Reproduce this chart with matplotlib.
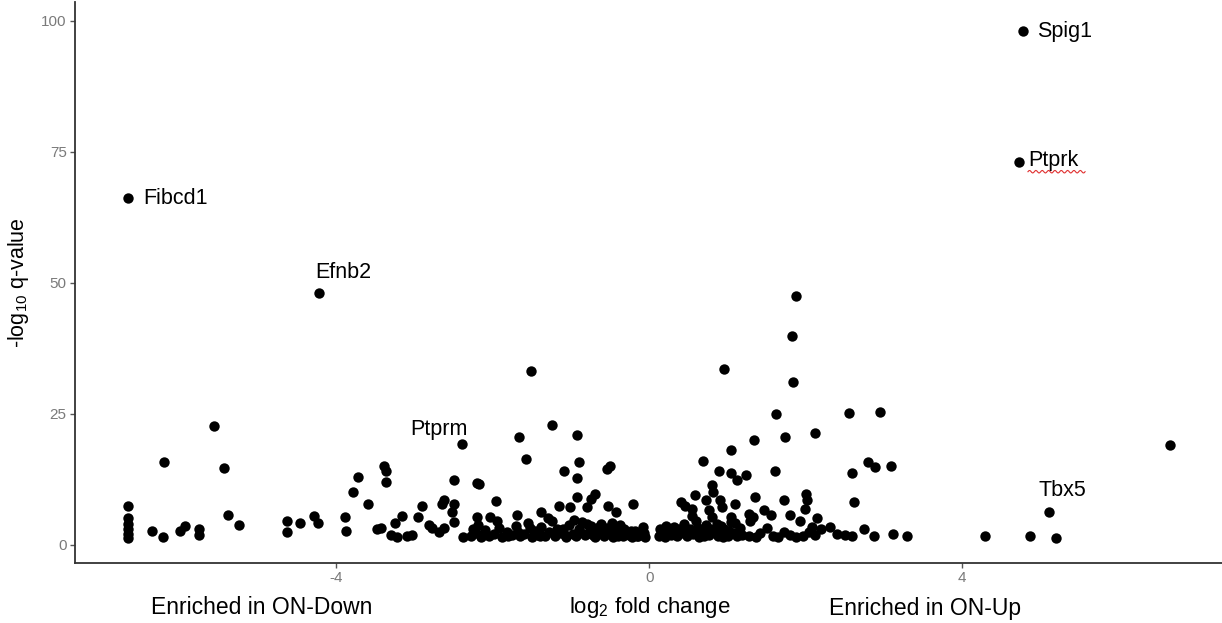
import numpy as np
import matplotlib
matplotlib.use("Agg")
import matplotlib.pyplot as plt
import matplotlib.transforms as mtransforms

plt.rcParams['font.family'] = ['Liberation Sans', 'DejaVu Sans']
plt.rcParams['mathtext.default'] = 'regular'

# ---------------- data ----------------
# labelled genes
label_genes = ["Spig1", "Ptprk", "Fibcd1", "Efnb2", "Ptprm", "Tbx5"]
label_x = [4.78, 4.73, -6.66, -4.22, -2.39, 5.11]
label_y = [98.0, 73.0, 66.1, 48.0, 19.3, 6.2]

# other genes (log2 fold change, -log10 q)
other_x = [
    -6.66, -6.66, -6.66, -6.66, -6.66, -6.66,
    -6.20, -5.56, -5.44, -6.35, -6.21, -6.00, -5.93, -5.76, -5.76, -5.38, -5.24,
    -4.63, -4.63, -4.47, -4.29, -4.23, -3.89, -3.87, -3.79, -3.72, -3.59, -3.48,
    -3.39, -3.36, -3.36, -3.43, -3.30, -3.25, -3.16, -3.23, -3.10, -3.03,
    -2.95, -2.91, -2.82, -2.78, -2.69, -2.63, -2.65, -2.63, -2.50, -2.52, -2.50, -2.50,
    -2.38, -2.20, -2.18, -2.20, -2.19, -2.04, -1.96, -1.66, -1.58, -1.24, -0.92, -0.90,
    -1.09, -0.92, -0.54, -0.50, -0.92, -0.75, -0.69, -0.80, -1.01, -1.16, -1.39, -0.21,
    -0.53, -0.43, -1.69, -1.51,
    # left dense band
    -2.28, -2.22, -2.15, -2.10, -2.05, -1.98, -1.92, -1.88, -1.82, -1.76, -1.70, -1.65,
    -1.60, -1.55, -1.50, -1.46, -1.42, -1.38, -1.33, -1.28, -1.24, -1.20, -1.15, -1.10,
    -1.06, -1.02, -0.98, -0.94, -0.90, -0.86, -0.82, -0.78, -0.74, -0.70, -0.66, -0.62,
    -0.58, -0.54, -0.50, -0.46, -0.42, -0.38, -0.34, -0.30, -0.26, -0.22, -0.18, -0.14,
    -0.10, -0.06,
    -2.25, -2.12, -1.95, -1.80, -1.68, -1.52, -1.40, -1.30, -1.18, -1.08, -0.96, -0.88,
    -0.80, -0.72, -0.64, -0.56, -0.48, -0.40, -0.32, -0.24, -0.16, -0.08,
    # right side
    -0.07, 1.62, 2.55, 2.95, 2.12, 1.74, 1.34, 1.04, 0.69, 0.89, 1.04, 1.12, 1.23, 1.61,
    2.59, 2.80, 2.89, 3.09, 2.62, 0.80, 0.81, 0.58, 0.40, 0.46, 0.55, 0.72, 0.76, 0.91,
    0.93, 1.10, 1.04, 1.35, 1.72, 2.00, 2.01, 1.99, 1.27, 1.33, 1.46, 1.55, 1.80, 1.93,
    2.14, 1.29, 2.31, 2.74, 2.87, 3.11, 3.29, 2.59, 2.50, 2.40, 2.08,
    4.29, 4.87, 5.20, 6.66,
    1.87, 1.82, 0.96, 1.84,
    # right dense band
    0.12, 0.16, 0.20, 0.24, 0.28, 0.32, 0.36, 0.40, 0.44, 0.48, 0.52, 0.56, 0.60, 0.64,
    0.68, 0.72, 0.76, 0.80, 0.84, 0.88, 0.92, 0.96, 1.00, 1.04, 1.08, 1.12, 1.16,
    0.14, 0.22, 0.30, 0.38, 0.46, 0.54, 0.62, 0.70, 0.78, 0.86, 0.94, 1.02, 1.10, 1.18,
    1.27, 1.36, 1.42, 1.50, 1.58, 1.64, 1.72, 1.80, 1.88, 1.96, 2.04, 2.12, 2.20,
]
other_y = [
    7.4, 5.0, 4.0, 3.0, 2.0, 1.3,
    15.8, 22.6, 14.6, 2.7, 1.5, 2.7, 3.5, 2.9, 1.8, 5.7, 3.7,
    4.5, 2.5, 4.1, 5.4, 4.1, 5.2, 2.6, 10.0, 13.0, 7.8, 2.9,
    15.0, 14.0, 12.0, 3.2, 1.8, 4.1, 5.4, 1.5, 1.6, 1.8,
    5.3, 7.3, 3.7, 3.1, 2.4, 3.1, 7.8, 8.5, 7.8, 6.2, 4.3, 12.4,
    1.5, 11.8, 11.6, 5.3, 3.7, 5.3, 8.3, 20.5, 16.3, 22.9, 20.9, 15.7,
    14.1, 12.8, 14.5, 15.0, 9.1, 8.8, 9.7, 7.2, 7.2, 7.3, 6.2, 7.8,
    7.3, 6.2, 5.6, 33.1,
    1.6, 2.2, 1.5, 2.8, 1.7, 2.0, 3.1, 1.5, 2.4, 1.8, 3.6, 1.6,
    2.1, 4.2, 1.5, 2.7, 1.9, 3.3, 1.6, 2.5, 4.6, 1.7, 2.2, 3.0,
    1.5, 3.8, 2.0, 1.6, 2.9, 4.4, 1.8, 2.3, 3.5, 1.5, 2.6, 4.0,
    1.7, 3.2, 2.0, 1.5, 2.8, 3.7, 1.6, 2.3, 1.9, 1.5, 2.6, 1.7,
    2.1, 1.5,
    2.9, 1.8, 4.5, 1.6, 2.5, 3.2, 1.6, 5.0, 2.9, 1.8, 4.8, 2.4,
    3.9, 1.9, 3.3, 2.4, 4.1, 1.7, 3.0, 2.6, 1.6, 3.4,
    2.2, 24.9, 25.1, 25.4, 21.3, 20.5, 19.9, 18.0, 16.0, 14.0, 13.7, 12.3, 13.3, 14.1,
    13.7, 15.7, 14.8, 15.0, 8.1, 11.3, 10.0, 9.5, 8.1, 7.3, 6.9, 8.5, 6.6, 8.5,
    7.2, 7.8, 5.3, 9.1, 8.5, 9.7, 8.5, 6.9, 5.9, 5.3, 6.6, 5.6, 5.6, 4.6,
    5.0, 4.6, 3.4, 2.9, 1.6, 2.0, 1.6, 1.6, 1.8, 2.1, 3.4,
    1.7, 1.6, 1.3, 19.0,
    47.5, 39.9, 33.6, 31.0,
    1.6, 2.3, 1.5, 2.8, 1.8, 3.4, 1.6, 2.2, 4.0, 1.7, 3.0, 2.0, 4.6, 1.5,
    2.6, 3.8, 1.8, 5.2, 2.4, 1.6, 3.6, 2.9, 1.7, 4.4, 2.2, 1.6, 3.1,
    2.9, 3.6, 2.4, 3.0, 2.4, 5.4, 3.1, 1.6, 3.0, 4.0, 1.5, 2.6, 4.2, 1.8,
    1.6, 1.5, 2.3, 3.1, 1.6, 1.5, 2.4, 1.8, 1.5, 1.6, 2.5, 1.8, 3.0,
]

# label text anchor positions (data units)
text_x = [4.95, 4.84, -6.47, -4.27, -3.05, 4.98]
text_y = [98.0, 73.4, 66.1, 52.0, 22.0, 10.3]

x_ticks = [-4, 0, 4]
y_ticks = [0, 25, 50, 75, 100]

# ---------------- figure ----------------
W, H = 1222, 623
fig = plt.figure(figsize=(W / 100, H / 100), dpi=100)
ax = fig.add_axes([75 / W, 60 / H, 1 - 75 / W, (563 - 2) / H])

ax.scatter(other_x, other_y, s=56, color="black", linewidths=0, zorder=3)
ax.scatter(label_x, label_y, s=56, color="black", linewidths=0, zorder=3)

for g, tx, ty in zip(label_genes, text_x, text_y):
    ax.text(tx, ty, g, ha="left", va="center", fontsize=15.5, color="black", zorder=4)

ax.set_xlim(-7.34, 7.32)
ax.set_ylim(-3.5, 103.6)
ax.set_xticks(x_ticks)
ax.set_xticklabels([str(t) for t in x_ticks])
ax.set_yticks(y_ticks)
ax.set_yticklabels([str(t) for t in y_ticks])

for side in ["top", "right"]:
    ax.spines[side].set_visible(False)
for side in ["left", "bottom"]:
    ax.spines[side].set_color("#333333")
    ax.spines[side].set_linewidth(1.3)
ax.tick_params(axis="both", colors="#555555", labelcolor="#7a7a7a",
               length=3.5, width=1.0, labelsize=11, pad=2.5)

ax.set_ylabel("-log$_{10}$ q-value", fontsize=15.5, color="black", labelpad=7)

# x-axis titles
trans = mtransforms.blended_transform_factory(ax.transData, fig.transFigure)
ax.text(-4.95, 15 / H, "Enriched in ON-Down", transform=trans, ha="center", va="center",
        fontsize=16.5, color="black")
ax.text(0, 15 / H, "log$_2$ fold change", transform=trans, ha="center", va="center",
        fontsize=16, color="black")
ax.text(3.53, 15 / H, "Enriched in ON-Up", transform=trans, ha="center", va="center",
        fontsize=16.5, color="black")

# spell-check squiggle under "Ptprk"
sq_x = np.linspace(0, 1, 60)
ax.plot(text_x[1] + sq_x * 0.73, text_y[1] - 2.2 + 0.25 * np.sin(sq_x * 2 * np.pi * 9),
        color="#e03030", lw=0.8, zorder=4, clip_on=False)

fig.savefig("out.png", dpi=100)
